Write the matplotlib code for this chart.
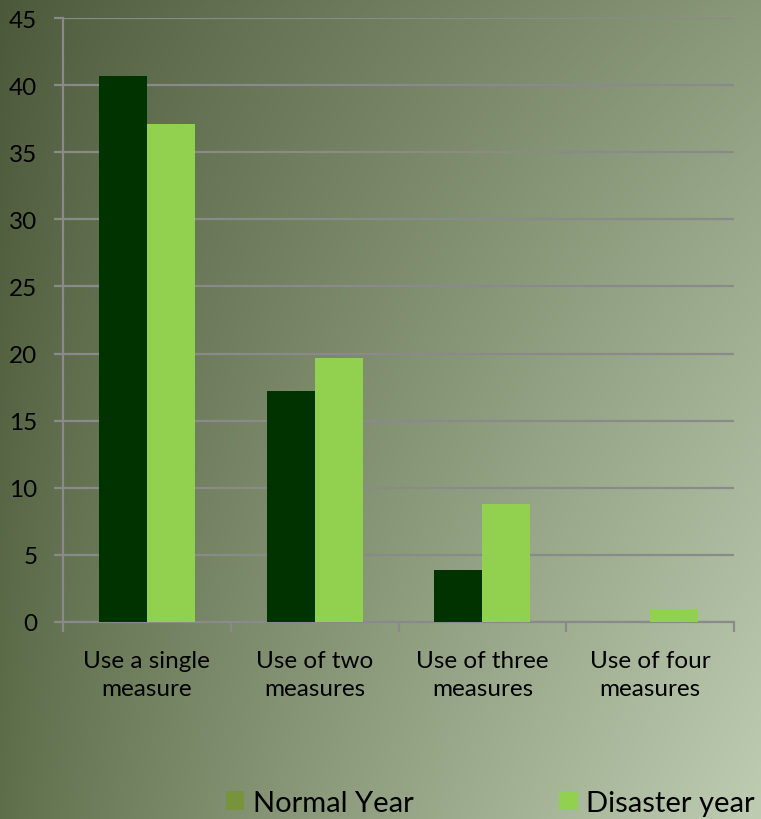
import numpy as np
import matplotlib
matplotlib.use("Agg")
import matplotlib.pyplot as plt
from matplotlib.patches import Patch

plt.rcParams['font.family'] = ['Lato', 'DejaVu Sans']

# Data
categories = ["Use a single\nmeasure", "Use of two\nmeasures",
              "Use of three\nmeasures", "Use of four\nmeasures"]
normal_year = [40.7, 17.2, 3.9, 0.0]
disaster_year = [37.1, 19.7, 8.8, 1.0]
series_names = ["Normal Year", "Disaster year"]
bar_colors = ["#003300", "#92d050"]
legend_colors = ["#77933c", "#92d050"]
yticks = [0, 5, 10, 15, 20, 25, 30, 35, 40, 45]

W, H = 761, 820
fig = plt.figure(figsize=(W / 100, H / 100), dpi=100)

# Background gradient (bilinear between corner colours, eased toward light)
bg = fig.add_axes([0, 0, 1, 1], zorder=-10)
tl = np.array([76, 88, 58]) / 255
tr = np.array([138, 152, 122]) / 255
bl = np.array([94, 110, 74]) / 255
br = np.array([190, 205, 178]) / 255
xs = np.linspace(0, 1, 200)[None, :, None] ** 0.85
ys = np.linspace(0, 1, 200)[:, None, None] ** 0.85
img = (tl * (1 - xs) * (1 - ys) + tr * xs * (1 - ys)
       + bl * (1 - xs) * ys + br * xs * ys)
bg.imshow(img, extent=[0, 1, 0, 1], aspect='auto', interpolation='bilinear')
bg.axis('off')

left, right = 63 / W, 734 / W
bottom, top = (H - 623) / H, (H - 19) / H
ax = fig.add_axes([left, bottom, right - left, top - bottom])
ax.set_facecolor('none')

x = np.arange(len(categories))
bw = 0.286
ax.bar(x - bw / 2, normal_year, bw, color=bar_colors[0], zorder=3)
ax.bar(x + bw / 2, disaster_year, bw, color=bar_colors[1], zorder=3)

ax.set_xlim(-0.5, len(categories) - 0.5)
ax.set_ylim(0, 45)
ax.set_yticks(yticks)
ax.set_yticklabels([str(v) for v in yticks], fontsize=17.5)
grid_col = '#8a8a8a'
ax.yaxis.grid(True, color=grid_col, linewidth=1.6, zorder=1)
ax.set_axisbelow(True)

for s in ['top', 'right']:
    ax.spines[s].set_visible(False)
for s in ['left', 'bottom']:
    ax.spines[s].set_color(grid_col)
    ax.spines[s].set_linewidth(1.6)

ax.tick_params(axis='y', length=6.5, width=1.6, color=grid_col, pad=12,
               labelcolor='black')
ax.set_xticks(x)
ax.set_xticklabels(categories, fontsize=17.5, linespacing=1.45)
ax.tick_params(axis='x', which='major', length=0, pad=20)
ax.set_xticks(np.arange(-0.5, len(categories), 1), minor=True)
ax.tick_params(axis='x', which='minor', length=7, width=1.6, color=grid_col)

handles = [Patch(facecolor=c, edgecolor='none') for c in legend_colors]
fig.legend(handles, series_names, loc='center left',
           bbox_to_anchor=(226 / W, (H - 804) / H), ncol=2, frameon=False,
           fontsize=21, handlelength=0.62, handleheight=0.62,
           handletextpad=0.3, columnspacing=5.0, borderaxespad=0, borderpad=0)

fig.savefig("out.png", dpi=100)
